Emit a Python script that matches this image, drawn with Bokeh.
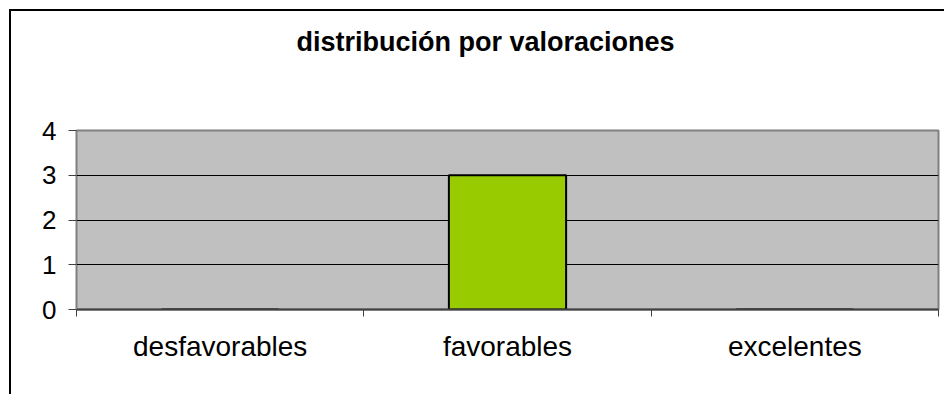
from bokeh.plotting import figure
from bokeh.models import Range1d, FixedTicker, ColumnDataSource, Title
from bokeh.embed import file_html
from bokeh.resources import INLINE

# data
categories = ["desfavorables", "favorables", "excelentes"]
values = [0, 3, 0]
y_ticks = [0, 1, 2, 3, 4]
title_text = "distribución por valoraciones"

FONT = "Liberation Sans"

p = figure(width=935, height=385, x_range=Range1d(0, len(categories)), y_range=Range1d(0, 4),
           output_backend="svg", toolbar_location=None,
           min_border_left=65, min_border_right=8, min_border_top=119, min_border_bottom=87)
p.styles = {"border-left": "2px solid black", "border-top": "2px solid black",
            "margin-left": "9px", "margin-top": "9px"}

p.title.text = title_text
p.title.text_font = FONT
p.title.text_font_size = "27px"
p.title.text_font_style = "bold"
p.title.text_color = "black"
p.title.align = "left"
p.title.vertical_align = "bottom"
p.title.standoff = 10
p.title.offset = 220

# empty spacer between title and plot area
p.add_layout(Title(text=" ", text_font_size="1px", standoff=66), "above")

p.background_fill_color = "#C0C0C0"
p.border_fill_color = "white"
p.outline_line_color = "#808080"
p.outline_line_width = 2

centers = [i + 0.5 for i in range(len(categories))]
src = ColumnDataSource(dict(x=centers, top=values))
p.vbar(x="x", top="top", bottom=0, width=0.408, source=src,
       fill_color="#99CC00", line_color="black", line_width=2)

# x axis
xa = p.xaxis[0]
xa.ticker = FixedTicker(ticks=centers, minor_ticks=list(range(len(categories) + 1)))
xa.major_label_overrides = {c: lab for c, lab in zip(centers, categories)}
xa.major_tick_out = 0
xa.major_tick_in = 0
xa.minor_tick_out = 7
xa.minor_tick_in = 0
xa.minor_tick_line_color = "#404040"
xa.axis_line_color = "#404040"
xa.axis_line_width = 2
xa.major_label_text_font = FONT
xa.major_label_text_font_size = "28px"
xa.major_label_text_color = "black"
xa.major_label_standoff = 14

# y axis
ya = p.yaxis[0]
ya.ticker = FixedTicker(ticks=y_ticks, minor_ticks=[])
ya.major_tick_out = 8
ya.major_tick_in = 0
ya.major_tick_line_color = "#404040"
ya.axis_line_color = "#808080"
ya.major_label_text_font = FONT
ya.major_label_text_font_size = "26px"
ya.major_label_text_color = "black"
ya.major_label_standoff = 12

p.xgrid.visible = False
p.ygrid.ticker = FixedTicker(ticks=[1, 2, 3])
p.ygrid.grid_line_color = "black"
p.ygrid.grid_line_width = 1

open("out.html", "w").write(file_html(p, INLINE))
